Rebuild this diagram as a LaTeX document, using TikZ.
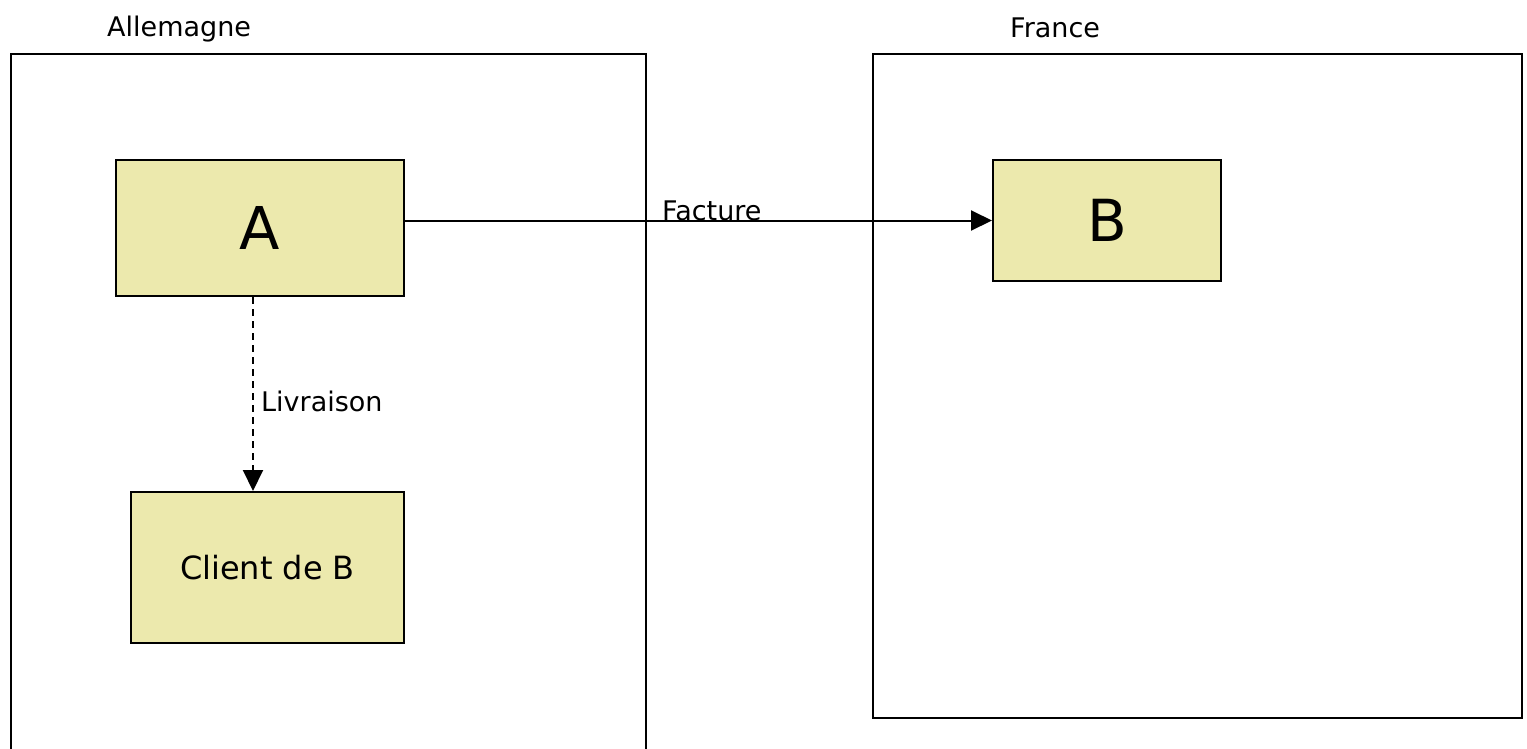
\documentclass[tikz,border=0pt]{standalone}
\usepackage{fontspec}
\setmainfont{DejaVu Sans}
\usetikzlibrary{arrows.meta}
\definecolor{boxfill}{HTML}{ECE9AD}
\tikzset{
  region/.style={draw=black, line width=2pt},
  entity/.style={draw=black, line width=2pt, fill=boxfill, rectangle, inner sep=0pt},
  lbl/.style={inner sep=0pt, font=\fontsize{27}{32}\selectfont},
  conn/.style={line width=2pt, -{Triangle[length=21pt,width=20pt]}},
}
\begin{document}
\begin{tikzpicture}[x=1pt,y=-1pt]
\useasboundingbox (0,0) rectangle (1527,748);
\fill[white] (0,0) rectangle (1527,748);
% regions
\draw[region] (11,800) -- (11,54) -- (646,54) -- (646,800);
\draw[region] (873,54) rectangle (1522,718);
\node[lbl, anchor=base west] (lAll) at (107,36) {Allemagne};
\node[lbl, anchor=base west] (lFr) at (1010,37) {France};
% entities
\node[entity, minimum width=288pt, minimum height=136pt, font=\fontsize{59}{66}\selectfont] (A) at (260,228) {A};
\node[entity, minimum width=228pt, minimum height=121pt, font=\fontsize{58}{66}\selectfont] (B) at (1107,220.5) {B};
\node[entity, minimum width=273pt, minimum height=151pt, font=\fontsize{32}{38}\selectfont] (C) at (267.5,567.5) {Client de B};
% connectors
\draw[conn] (A.east |- B.west) -- (B.west);
\node[lbl, anchor=base west] (lFact) at (662,220) {Facture};
\draw[conn, dash pattern=on 7pt off 5pt] ([xshift=-7pt]A.south) -- ([xshift=-7pt]A.south |- C.north);
\node[lbl, anchor=base west] (lLiv) at (261,411) {Livraison};
\end{tikzpicture}
\end{document}
